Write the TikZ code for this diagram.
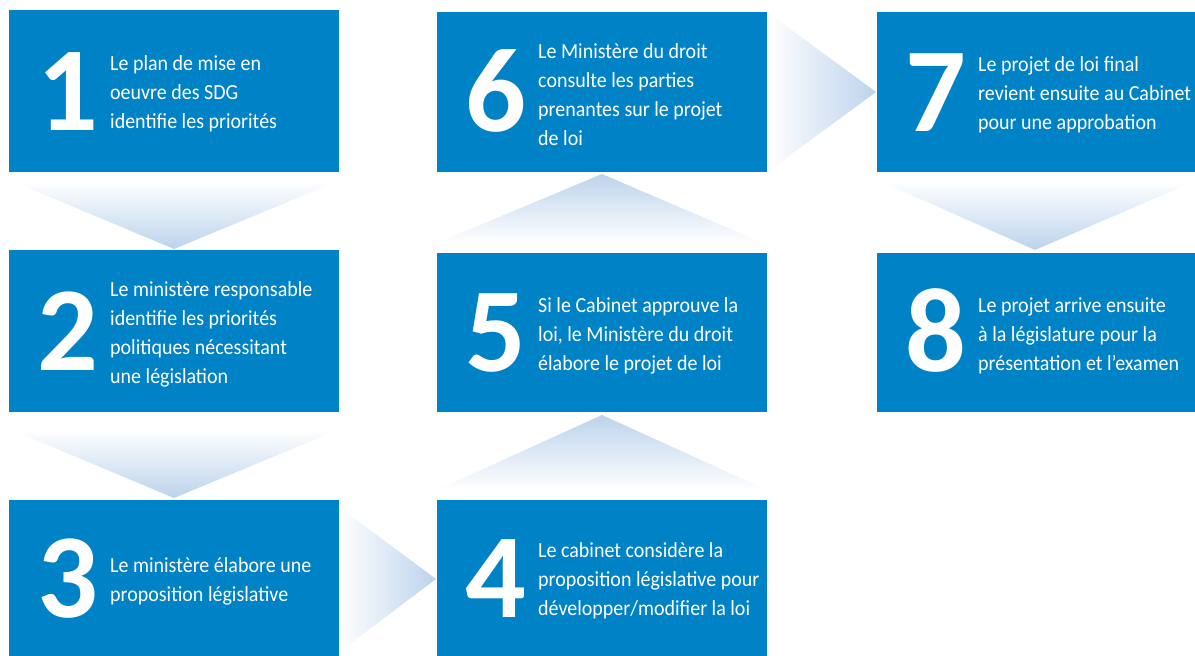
\documentclass[tikz,border=0pt]{standalone}
\usepackage{fontspec}
\setmainfont[FakeStretch=0.93]{Carlito}
\newfontfamily\digitfont{Carlito}
\usetikzlibrary{calc}
\definecolor{stepblue}{RGB}{0,130,198}
\definecolor{chevblue}{RGB}{188,211,236}
\tikzset{
  x=1pt,y=-1pt,
  stepbox/.style={fill=stepblue,draw=none,inner sep=0pt,outer sep=0pt},
  bignum/.style={anchor=base west,inner sep=0pt,text=white,
    font=\digitfont\fontsize{120}{120}\selectfont\bfseries},
  steptext/.style={anchor=west,inner sep=0pt,text=white,align=left,
    font=\fontsize{21.5}{29}\selectfont},
}
\newcommand{\stepblock}[7]{%
  % #1 name, #2 left, #3 top, #4 right, #5 bottom, #6 digit, #7 text
  \path[stepbox] (#2,#3) rectangle (#4,#5);
  \node[inner sep=0pt,outer sep=0pt,minimum width={(#4-#2)*1pt},minimum height={(#5-#3)*1pt}]
    (#1) at ({(#2+#4)/2},{(#3+#5)/2}) {};
  \node[bignum] (#1n) at ($(#1.west)+(28,39)$) {#6};
  \node[steptext] (#1t) at ($(#1.west)+(101,3)$) {#7};
}
\begin{document}
\begin{tikzpicture}
\useasboundingbox (0,0) rectangle (1195,656);
\fill[white] (0,0) rectangle (1195,656);

\stepblock{b1}{9}{10}{339}{172}{1}{Le plan de mise en\\oeuvre des SDG\\identifie les priorités}
\stepblock{b2}{9}{250}{339}{412}{2}{Le ministère responsable\\identifie les priorités\\politiques nécessitant\\une législation}
\stepblock{b3}{9}{500}{339}{656}{3}{Le ministère élabore une\\proposition législative}
\stepblock{b4}{437}{500}{767}{656}{4}{Le cabinet considère la\\proposition législative pour\\développer/modifier la loi}
\stepblock{b5}{437}{253}{767}{412}{5}{Si le Cabinet approuve la\\loi, le Ministère du droit\\élabore le projet de loi}
\stepblock{b6}{437}{12}{767}{172}{6}{Le Ministère du droit\\consulte les parties\\prenantes sur le projet\\de loi}
\begin{scope}
  \clip (877,0) rectangle (1195,656);
  \stepblock{b7}{877}{12}{1195}{172}{7}{Le projet de loi final\\revient ensuite au Cabinet\\pour une approbation}
\end{scope}
\stepblock{b8}{877}{253}{1195}{412}{8}{Le projet arrive ensuite\\à la législature pour la\\présentation et l’examen}

% chevrons between consecutive steps
\shade[top color=white,bottom color=chevblue]
  ($(b1.south west)+(3,9)$) -- ($(b1.south east)+(-1,9)$) -- ($(b2.north)+(0,-1)$) -- cycle;
\shade[top color=white,bottom color=chevblue]
  ($(b2.south west)+(3,18)$) -- ($(b2.south east)+(-1,18)$) -- ($(b3.north)+(0,-2)$) -- cycle;
\shade[left color=white,right color=chevblue]
  ($(b3.north east)+(0,7)$) -- ($(b4.west)+(-1,1)$) -- ($(b3.south east)+(0,-4)$) -- cycle;
\shade[top color=chevblue,bottom color=white]
  ($(b4.north west)+(0,-10)$) -- ($(b5.south)+(0,3)$) -- ($(b4.north east)+(0,-10)$) -- cycle;
\shade[top color=chevblue,bottom color=white]
  ($(b5.north west)+(0,-10)$) -- ($(b6.south)+(0,2)$) -- ($(b5.north east)+(-4,-10)$) -- cycle;
\shade[left color=white,right color=chevblue]
  (b6.north east) -- ($(b7.west)+(-1,0)$) -- (b6.south east) -- cycle;
\shade[top color=white,bottom color=chevblue]
  ($(b7.south west)+(3,9)$) -- ($(b7.south east)+(0,9)$) -- ($(b8.north)+(-1,-3)$) -- cycle;
\end{tikzpicture}
\end{document}
